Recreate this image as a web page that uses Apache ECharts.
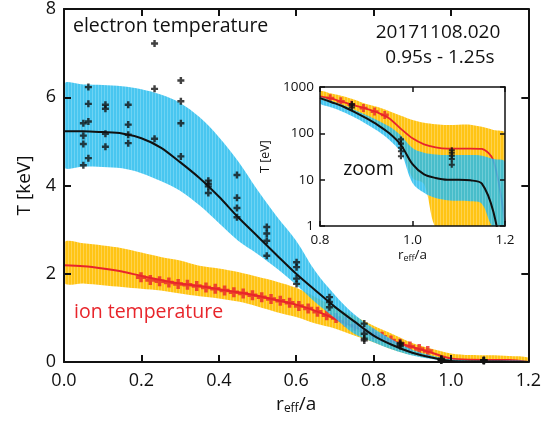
<!DOCTYPE html>
<html><head><meta charset="utf-8">
<script src="https://cdn.jsdelivr.net/npm/echarts@6/dist/echarts.min.js"></script>
<style>html,body{margin:0;padding:0;background:#fff}#c{width:544px;height:421px}</style>
</head><body><div id="c"></div>
<script>
// ---------- main panel (keV) ----------
const rMain  = [0,0.05,0.1,0.15,0.2,0.25,0.3,0.35,0.4,0.45,0.5,0.55,0.6,0.65,0.7,0.75,0.8,0.85,0.9,0.95,1.0,1.05,1.1,1.15,1.2];
const teFit  = [5.23,5.23,5.21,5.18,5.07,4.86,4.53,4.17,3.75,3.28,2.85,2.42,2.00,1.62,1.25,0.92,0.60,0.38,0.21,0.10,0.022,0.011,0.010,0.008,0.0003];
const teHi   = [6.29,6.29,6.28,6.25,6.18,6.06,5.87,5.55,5.10,4.55,3.90,3.30,2.75,2.05,1.52,1.08,0.76,0.50,0.28,0.15,0.06,0.036,0.035,0.034,0.025];
const teLo   = [4.43,4.43,4.42,4.39,4.28,4.10,3.88,3.55,3.15,2.75,2.45,2.12,1.75,1.35,1.00,0.64,0.45,0.28,0.15,0.068,0.013,0.004,0.0035,0.003,0.0001];
const tiFit  = [2.19,2.17,2.12,2.05,1.95,1.86,1.78,1.72,1.65,1.58,1.50,1.40,1.30,1.16,0.98,0.80,0.63,0.47,0.34,0.21,0.078,0.050,0.047,0.046,0.0015];
const tiHi   = [2.70,2.69,2.64,2.58,2.48,2.38,2.30,2.18,2.12,2.04,1.93,1.82,1.68,1.47,1.24,1.04,0.82,0.63,0.43,0.30,0.195,0.158,0.154,0.138,0.10];
const tiLo   = [1.80,1.78,1.74,1.70,1.66,1.62,1.55,1.49,1.44,1.37,1.26,1.13,1.02,0.87,0.76,0.60,0.45,0.28,0.16,0.09,0.035,0.0005,0.0003,0.0003,0.0003];

// measured points (keV)
const teDataR = [0.050,0.063,0.107,0.166,0.234,0.302,0.373,0.447,0.524,0.601,0.686,0.776,0.869,0.975,1.085];
const teDataT = [
  [5.41,5.13,4.94,4.46],[6.23,5.85,5.45,4.62],[5.83,5.74,5.17,4.88],[5.83,5.38,5.15,4.96],
  [7.22,6.19,5.06],[6.38,5.91,5.41,4.66],[4.11,4.04,3.98,3.83],[4.24,3.72,3.49,3.28],
  [3.06,2.91,2.75,2.41],[2.26,2.15,1.89,1.77],[1.47,1.36,1.24],[0.87,0.64,0.53,0.49],
  [0.43,0.40,0.36],[0.074,0.060,0.049,0.041,0.032],[0.043,0.038,0.033,0.028,0.021]];
const tiDataR = [0.199,0.223,0.247,0.271,0.295,0.319,0.343,0.367,0.391,0.415,0.439,0.463,0.487,0.511,0.535,0.559,0.583,0.607,0.631,0.655,0.679,0.703,0.727,0.751,0.775,0.799,0.822,0.845,0.868,0.894,0.918,0.940];
const tiDataT = [1.92,1.86,1.83,1.80,1.77,1.75,1.72,1.69,1.66,1.62,1.58,1.55,1.51,1.47,1.43,1.39,1.34,1.27,1.21,1.14,1.06,1.00,0.92,0.82,0.72,0.64,0.575,0.49,0.415,0.35,0.295,0.25];

// ---------- zoom panel (eV) ----------
const zoomR    = [0.8,0.825,0.85,0.875,0.9,0.925,0.95,0.975,1.0,1.025,1.05,1.075,1.1,1.125,1.15,1.175,1.2];
const zoomTe   = [575,470,380,288,212,151,100,56,21.6,13,10.9,10,10,9.7,8.2,2.0,0.1];
const zoomTeHi = [600,500,410,320,250,190,140,90,48,38,35,34,34,34,33,28,24];
const zoomTeLo = [440,360,290,220,160,112,72,38,8.5,5.2,4.0,3.6,3.5,3.4,3.0,0.8,0.1];
const zoomTi   = [630,560,470,400,340,280,210,125,78,58,50,47,47,47,46,26,1.2];
const zoomTiHi = [810,720,630,530,430,370,300,240,195,170,158,151,154,154,138,118,100];
const zoomTiLo = [560,455,368,278,205,145,96,52,11,8,0.5,0.3,0.3,0.3,0.3,0.3,0.3];

const FONT = "'Open Sans','Liberation Sans',sans-serif";
const RED = '#E8252B', INK = '#111';
const PLUS = 'path://M-1.4,-4L1.4,-4L1.4,-1.4L4,-1.4L4,1.4L1.4,1.4L1.4,4L-1.4,4L-1.4,1.4L-4,1.4L-4,-1.4L-1.4,-1.4Z';

// vertical hatch texture like the reference bands
function stripes(base, light) {
  const c = document.createElement('canvas'); c.width = 3; c.height = 4;
  const g = c.getContext('2d');
  g.fillStyle = base; g.fillRect(0, 0, 3, 4);
  g.fillStyle = light; g.fillRect(2, 0, 1, 4);
  return {image:c, repeat:'repeat'};
}
const YELLOW = stripes('#FFC414', '#FFD24E');
const BLUE = stripes('#25BBEE', '#52CBF2');

function band(xi, yi, rs, lo, hi, fill, opacity, z) {
  return {
    type:'custom', xAxisIndex:xi, yAxisIndex:yi, z, silent:true,
    data: rs.map((r,i)=>[r, lo[i], hi[i]]),
    encode:{x:0, y:[1,2]},
    renderItem:function(params, api){
      if (params.dataIndex !== 0) return null;
      const cs = params.coordSys;
      const y0 = cs.y - 2, y1 = cs.y + cs.height + 2;
      const clampY = p => [p[0], Math.max(y0, Math.min(y1, p[1]))];
      const top = rs.map((r,i)=>clampY(api.coord([r, hi[i]])));
      const bot = rs.map((r,i)=>clampY(api.coord([r, lo[i]]))).reverse();
      return {type:'polygon',
        shape:{points:top.concat(bot), smooth:0.35, smoothConstraint:[[cs.x, y0],[cs.x + cs.width, y1]]},
        style:{fill:fill, opacity:opacity},
        clipPath:{type:'rect', shape:{x:cs.x, y:cs.y, width:cs.width, height:cs.height}}};
    }
  };
}
function curve(xi, yi, rs, v, color, w, z) {
  return {type:'line', xAxisIndex:xi, yAxisIndex:yi, symbol:'none', smooth:0.3,
    lineStyle:{color, width:w}, data: rs.map((r,i)=>[r, v[i]]), z, silent:true};
}
function pts(xi, yi, data, color, size, z) {
  return {type:'scatter', xAxisIndex:xi, yAxisIndex:yi, symbol:PLUS, symbolSize:size,
    itemStyle:{color}, data, z, silent:true, clip:true};
}
const teP = []; teDataR.forEach((r,i)=>teDataT[i].forEach(t=>teP.push([r,t])));
const tiP = tiDataR.map((r,i)=>[r, tiDataT[i]]);
const toEv = a => a.map(p=>[p[0], p[1]*1000]);

function axisCommon(extra) {
  return Object.assign({
    axisLine:{show:true, onZero:false, lineStyle:{color:INK, width:2}},
    axisTick:{show:true, inside:true, length:7, lineStyle:{color:INK, width:2}},
    splitLine:{show:false}, z:10
  }, extra);
}
const thin = {
  axisTick:{show:true, inside:true, length:5, lineStyle:{color:INK, width:1.5}},
  axisLine:{show:true, onZero:false, lineStyle:{color:INK, width:1.5}}
};

const option = {
  animation:false,
  backgroundColor:'#fff',
  grid:[
    {left:64, right:12, top:8, bottom:59},
    {left:320, width:185, top:87, height:139}
  ],
  xAxis:[
    axisCommon({gridIndex:0, type:'value', position:'bottom', min:0, max:1.2, interval:0.2,
      axisLabel:{fontSize:18, fontFamily:FONT, color:INK, margin:10, formatter:v=>v.toFixed(1)},
      name:'{n|r}{s|eff}{n|/a}', nameLocation:'middle', nameGap:30,
      nameTextStyle:{fontFamily:FONT, color:INK, rich:{n:{fontSize:19, fontFamily:FONT, color:INK}, s:{fontSize:12, fontFamily:FONT, color:INK, padding:[9,0,0,0]}}}}),
    axisCommon({gridIndex:0, type:'value', position:'top', min:0, max:1.2, interval:0.2, axisLabel:{show:false}}),
    axisCommon(Object.assign({gridIndex:1, type:'value', position:'bottom', min:0.8, max:1.2, interval:0.2,
      axisLabel:{fontSize:13.5, fontFamily:FONT, color:INK, margin:7, formatter:v=>v.toFixed(1)},
      name:'{n|r}{s|eff}{n|/a}', nameLocation:'middle', nameGap:22,
      nameTextStyle:{fontFamily:FONT, color:INK, rich:{n:{fontSize:13.5, fontFamily:FONT, color:INK}, s:{fontSize:9, fontFamily:FONT, color:INK, padding:[6,0,0,0]}}}}, thin)),
    axisCommon(Object.assign({gridIndex:1, type:'value', position:'top', min:0.8, max:1.2, interval:0.2, axisLabel:{show:false}}, thin))
  ],
  yAxis:[
    axisCommon({gridIndex:0, type:'value', position:'left', min:0, max:8, interval:2,
      axisLabel:{fontSize:18, fontFamily:FONT, color:INK, margin:8},
      name:'T [keV]', nameLocation:'middle', nameGap:30, nameRotate:90,
      nameTextStyle:{fontSize:19, fontFamily:FONT, color:INK}}),
    axisCommon({gridIndex:0, type:'value', position:'right', min:0, max:8, interval:2, axisLabel:{show:false}}),
    axisCommon(Object.assign({gridIndex:1, type:'log', logBase:10, position:'left', min:1, max:1000,
      axisLabel:{fontSize:13.5, fontFamily:FONT, color:INK, margin:6, formatter:v=>String(Math.round(v))},
      name:'T [eV]', nameLocation:'middle', nameGap:48, nameRotate:90,
      nameTextStyle:{fontSize:12.5, fontFamily:FONT, color:INK}}, thin)),
    axisCommon(Object.assign({gridIndex:1, type:'log', logBase:10, position:'right', min:1, max:1000, axisLabel:{show:false}}, thin))
  ],
  series:[
    // main panel
    band(0, 0, rMain, tiLo, tiHi, YELLOW, 1, 1),
    curve(0, 0, rMain, tiFit, RED, 2, 2),
    pts(0, 0, tiP, RED, 10, 3),
    band(0, 0, rMain, teLo, teHi, BLUE, 0.84, 4),
    curve(0, 0, rMain, teFit, INK, 2, 5),
    pts(0, 0, teP, INK, 7, 6),
    // zoom panel
    band(2, 2, zoomR, zoomTiLo, zoomTiHi, YELLOW, 1, 1),
    curve(2, 2, zoomR, zoomTi, RED, 1.8, 2),
    pts(2, 2, toEv(tiP), RED, 8, 3),
    band(2, 2, zoomR, zoomTeLo, zoomTeHi, BLUE, 0.84, 4),
    curve(2, 2, zoomR, zoomTe, INK, 2, 5),
    pts(2, 2, toEv(teP), INK, 6, 6)
  ],
  graphic:[
    {type:'text', x:73, y:26, style:{text:'electron temperature', fontSize:19.5, fontFamily:FONT, fill:INK, verticalAlign:'middle', textVerticalAlign:'middle'}},
    {type:'text', x:438, y:33, style:{text:'20171108.020', fontSize:19, fontFamily:FONT, fill:INK, align:'center', textAlign:'center', verticalAlign:'middle', textVerticalAlign:'middle'}},
    {type:'text', x:440, y:58, style:{text:'0.95s - 1.25s', fontSize:19, fontFamily:FONT, fill:INK, align:'center', textAlign:'center', verticalAlign:'middle', textVerticalAlign:'middle'}},
    {type:'text', x:74, y:312, style:{text:'ion temperature', fontSize:19.5, fontFamily:FONT, fill:RED, verticalAlign:'middle', textVerticalAlign:'middle'}},
    {type:'text', x:368.5, y:169, z:20, style:{text:'zoom', fontSize:19.5, fontFamily:FONT, fill:INK, align:'center', textAlign:'center', verticalAlign:'middle', textVerticalAlign:'middle'}}
  ]
};
const chart = echarts.init(document.getElementById('c'), null, {renderer:'canvas'});
chart.setOption(option);
</script>
</body></html>
